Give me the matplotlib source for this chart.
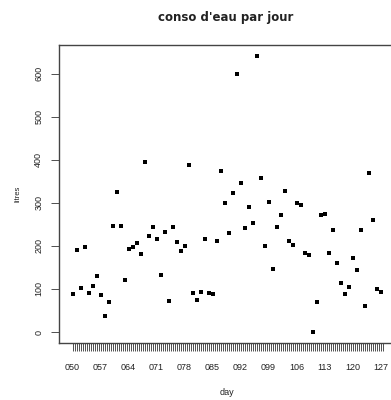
import matplotlib
matplotlib.use("Agg")
import matplotlib.pyplot as plt
import numpy as np
from matplotlib.ticker import FixedLocator

# day of year, one reading per day
days = [50, 51, 52, 53, 54, 55, 56, 57, 58, 59, 60, 61, 62, 63, 64, 65, 66,
        67, 68, 69, 70, 71, 72, 73, 74, 75, 76, 77, 78, 79, 80, 81, 82, 83,
        84, 85, 86, 87, 88, 89, 90, 91, 92, 93, 94, 95, 96, 97, 98, 99, 100,
        101, 102, 103, 104, 105, 106, 107, 108, 109, 110, 111, 112, 113, 114,
        115, 116, 117, 118, 119, 120, 121, 122, 123, 124, 125, 126, 127]

litres = [88, 190, 102, 198, 90, 108, 129, 85, 38, 70,
          247, 325, 247, 122, 193, 197, 206, 181, 395, 224,
          245, 216, 133, 233, 71, 245, 209, 188, 199, 389,
          91, 74, 93, 216, 91, 88, 211, 374, 299, 229,
          322, 599, 347, 241, 291, 254, 642, 359, 201, 302,
          147, 245, 272, 328, 211, 202, 299, 294, 183, 179,
          0, 70, 271, 274, 184, 238, 160, 113, 88, 104,
          171, 145, 238, 61, 370, 260, 101, 94]

label_days = [50, 57, 64, 71, 78, 85, 92, 99, 106, 113, 120, 127]
label_text = ["050", "057", "064", "071", "078", "085", "092", "099",
              "106", "113", "120", "127"]
y_ticks = [0, 100, 200, 300, 400, 500, 600]

plt.rcParams['font.family'] = ['Liberation Sans', 'DejaVu Sans']

W, H = 391, 400
fig = plt.figure(figsize=(W / 100, H / 100), dpi=100)
# plot box runs a little past the right edge, as in the reference
left, right, top, bottom = 58.5, 394.5, 45.0, 342.5
ax = fig.add_axes([left / W, 1 - bottom / H, (right - left) / W, (bottom - top) / H])

ax.plot(days, litres, 's', color='black', markersize=2.6, markeredgewidth=0)

ax.set_xlim(46.5, 130.5)
ax.set_ylim(-24.4, 667)

ax.set_xticks(label_days)
ax.set_xticklabels(label_text)
# half-day ticks only over the span of the data
ax.xaxis.set_minor_locator(FixedLocator(np.arange(days[0], days[-1] + 0.75, 0.5)))
ax.set_yticks(y_ticks)
ax.set_yticklabels([str(v) for v in y_ticks], rotation=90, va='center')

ax.tick_params(axis='both', which='both', direction='out', length=6, width=0.6,
               color='#333333', labelsize=6.5, labelcolor='#222222')
ax.tick_params(axis='x', which='both', pad=9)
ax.tick_params(axis='y', pad=5)

for s in ax.spines.values():
    s.set_linewidth(1.0)
    s.set_color('#444444')

ax.set_xlabel('day', fontsize=6.5, color='#222222', labelpad=11)
ax.set_ylabel('litres', fontsize=5.5, color='#222222', labelpad=9)
fig.text(226 / W, 1 - 18 / H, "conso d'eau par jour", ha='center', va='center',
         fontsize=8.5, fontweight='bold', color='#222222', family='DejaVu Sans')

fig.savefig('out.png', dpi=100)
